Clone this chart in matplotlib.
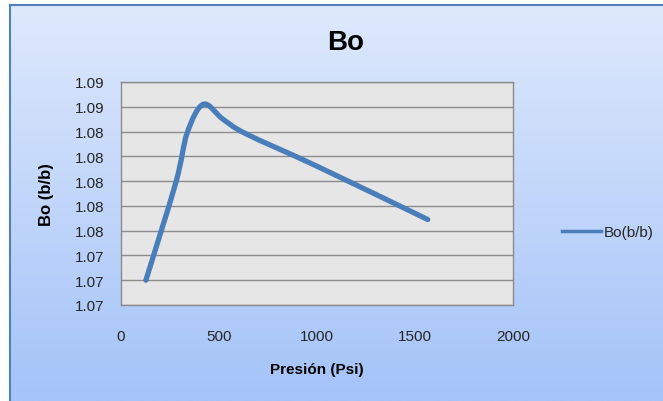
import numpy as np
import matplotlib
matplotlib.use("Agg")
import matplotlib.pyplot as plt
from matplotlib.path import Path
from matplotlib.patches import PathPatch
from matplotlib.lines import Line2D
from matplotlib.ticker import FormatStrFormatter, MultipleLocator

plt.rcParams['font.family'] = ['Liberation Sans', 'DejaVu Sans']

# data
presion = [127, 280, 338, 420, 520, 640, 1000, 1565]
bo = [1.0720, 1.0799, 1.0839, 1.0862, 1.0850, 1.0838, 1.0812, 1.0769]
serie = 'Bo(b/b)'
titulo = 'Bo'
x_label = 'Presión (Psi)'
y_label = 'Bo (b/b)'

W, H = 663, 402
fig = plt.figure(figsize=(W / 100, H / 100), dpi=100)
fig.patch.set_facecolor('white')

# gradient chart background with blue border on left/top
bg = fig.add_axes([10 / W, 0, 1 - 10 / W, 1 - 6 / H])
grad = np.linspace(0, 1, 256).reshape(-1, 1)
top_c = np.array([222, 233, 252]) / 255
bot_c = np.array([164, 195, 248]) / 255
img = top_c + (bot_c - top_c) * grad[..., None]
bg.imshow(img, aspect='auto', extent=[0, 1, 0, 1])
bg.set_xticks([])
bg.set_yticks([])
for s in ['right', 'bottom']:
    bg.spines[s].set_visible(False)
for s in ['left', 'top']:
    bg.spines[s].set_color('#4F81BD')
    bg.spines[s].set_linewidth(1.5)

ax = fig.add_axes([121 / W, 1 - 306 / H, (513 - 121) / W, (306 - 83) / H])
ax.set_facecolor('#E6E6E6')
ax.set_xlim(0, 2000)
ax.set_ylim(1.070, 1.088)
ax.xaxis.set_major_locator(MultipleLocator(500))
ax.yaxis.set_major_locator(MultipleLocator(0.002))
ax.yaxis.set_major_formatter(FormatStrFormatter('%.2f'))
ax.grid(axis='y', color='#8C8C8C', linewidth=1)
ax.set_axisbelow(True)
ax.tick_params(length=0, labelsize=11, colors='#262626')
ax.tick_params(axis='x', pad=17)
ax.tick_params(axis='y', pad=12)
for s in ax.spines.values():
    s.set_color('#8C8C8C')
    s.set_linewidth(1)

# smoothed line like Excel (Catmull-Rom as cubic Bezier)
x = np.array(presion, dtype=float)
y = np.array(bo, dtype=float)
verts = [(x[0], y[0])]
codes = [Path.MOVETO]
n = len(x)
for i in range(n - 1):
    p0 = i - 1 if i > 0 else i
    p3 = i + 2 if i + 2 < n else i + 1
    c1 = (x[i] + (x[i + 1] - x[p0]) / 6, y[i] + (y[i + 1] - y[p0]) / 6)
    c2 = (x[i + 1] - (x[p3] - x[i]) / 6, y[i + 1] - (y[p3] - y[i]) / 6)
    verts += [c1, c2, (x[i + 1], y[i + 1])]
    codes += [Path.CURVE4] * 3
line_color = '#4A7EBB'
ax.add_patch(PathPatch(Path(verts, codes), facecolor='none', edgecolor=line_color,
                       linewidth=3.8, capstyle='round', joinstyle='round'))

fig.text(346 / W, 1 - 43 / H, titulo, ha='center', va='center',
         fontsize=20, fontweight='bold')
fig.text(47 / W, 1 - 195 / H, y_label, ha='center', va='center', rotation=90,
         fontsize=12, fontweight='bold')
fig.text(317 / W, 1 - 370 / H, x_label, ha='center', va='center',
         fontsize=11, fontweight='bold')

handle = Line2D([], [], color=line_color, linewidth=2.5)
fig.legend([handle], [serie], loc='center left', bbox_to_anchor=(548 / W, 1 - 233 / H),
           frameon=False, fontsize=11, handlelength=2.6, handletextpad=0.15,
           labelcolor='#262626')

fig.savefig('out.png', dpi=100)
